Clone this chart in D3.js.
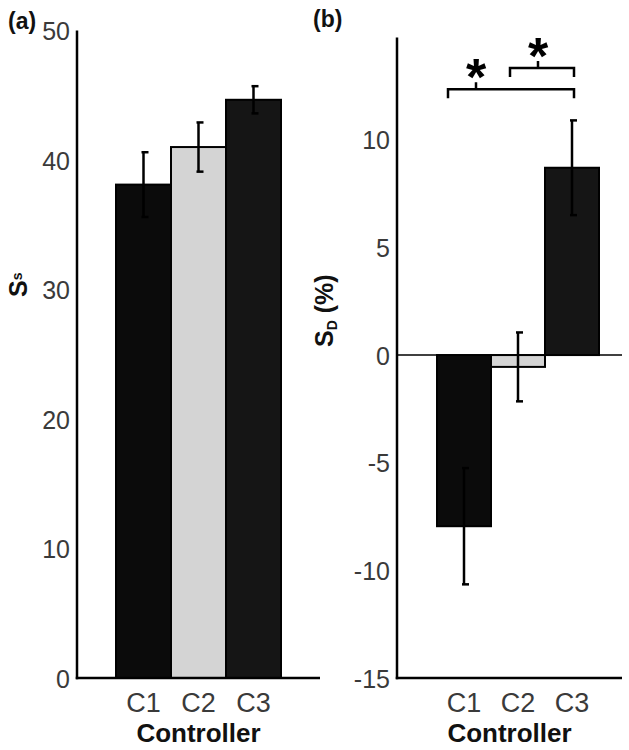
<!DOCTYPE html>
<html><head><meta charset="utf-8">
<script src="https://cdn.jsdelivr.net/npm/d3@7"></script>
<style>body{margin:0;background:#fff}svg{display:block}</style>
</head><body>
<svg id="chart" width="629" height="750"></svg>
<script>
const categories = ["C1", "C2", "C3"];
const ssMean = [38.1, 41.0, 44.65];
const ssErr = [2.5, 1.9, 1.05];
const sdMean = [-7.95, -0.55, 8.7];
const sdErr = [2.7, 1.6, 2.2];
const ssTicks = [0, 10, 20, 30, 40, 50];
const sdTicks = [-15, -10, -5, 0, 5, 10];
const barColors = ["#0b0b0b", "#d4d4d4", "#151515"];
const sigPairs = [["C1", "C3"], ["C2", "C3"]];
const sigLevels = [12.35, 13.33];

const svg = d3.select("#chart");
const tickFont = "'Liberation Sans', Arial, sans-serif";

function panel(opts) {
  const g = svg.append("g");
  const y = d3.scaleLinear().domain(opts.domain).range([678, opts.top]);
  const x = d3.scaleBand().domain(categories).range(opts.barRange).padding(0);
  const bw = x.bandwidth();

  g.selectAll("rect.bar").data(categories).join("rect")
    .attr("x", d => x(d)).attr("width", bw)
    .attr("y", (d, i) => y(Math.max(0, opts.mean[i])))
    .attr("height", (d, i) => Math.abs(y(opts.mean[i]) - y(0)))
    .attr("fill", (d, i) => barColors[i])
    .attr("stroke", "#000").attr("stroke-width", 2);

  categories.forEach((c, i) => {
    const cx = x(c) + bw / 2;
    const lo = opts.mean[i] - opts.err[i], hi = opts.mean[i] + opts.err[i];
    g.append("line").attr("x1", cx).attr("x2", cx).attr("y1", y(lo)).attr("y2", y(hi))
      .attr("stroke", "#000").attr("stroke-width", 2.5);
    [lo, hi].forEach(v => g.append("line").attr("x1", cx - 2).attr("x2", cx + 5)
      .attr("y1", y(v)).attr("y2", y(v)).attr("stroke", "#000").attr("stroke-width", 2.5));
  });

  if (opts.zeroLine) {
    g.append("line").attr("x1", opts.axisX).attr("x2", opts.axisEnd)
      .attr("y1", y(0)).attr("y2", y(0)).attr("stroke", "#000").attr("stroke-width", 1.5);
  }

  const ya = d3.axisLeft(y).tickValues(opts.ticks).tickSize(0).tickPadding(7)
    .tickFormat(d => String(d));
  const yg = g.append("g").attr("transform", `translate(${opts.axisX},0)`).call(ya);
  yg.select(".domain").remove();
  yg.selectAll("text").attr("font-family", tickFont).attr("font-size", 25)
    .attr("fill", "#3a3a3a").attr("dy", "0.36em");
  g.append("line").attr("x1", opts.axisX).attr("x2", opts.axisX)
    .attr("y1", y(opts.domain[1])).attr("y2", 679.25)
    .attr("stroke", "#000").attr("stroke-width", 2.5);

  const xa = d3.axisBottom(x).tickSize(0).tickPadding(10);
  const xg = g.append("g").attr("transform", "translate(0,678)").call(xa);
  xg.select(".domain").remove();
  xg.selectAll("text").attr("font-family", tickFont).attr("font-size", 27)
    .attr("fill", "#3a3a3a").attr("dy", "0.88em");
  g.append("line").attr("x1", opts.axisX - 1.25).attr("x2", opts.axisEnd)
    .attr("y1", 678).attr("y2", 678).attr("stroke", "#000").attr("stroke-width", 2.5);

  g.append("text").attr("x", (opts.axisX + opts.axisEnd) / 2).attr("y", 742)
    .attr("text-anchor", "middle").attr("font-family", "'Liberation Sans', Arial, sans-serif")
    .attr("font-weight", "bold").attr("font-size", 26).attr("fill", "#111").text("Controller");

  return {g, x, y, bw};
}

// Panel (a)
const pa = panel({domain: [0, 50], top: 30.5, barRange: [116, 281], axisX: 77, axisEnd: 320,
  mean: ssMean, err: ssErr, ticks: ssTicks, zeroLine: false});
const la = svg.append("text").attr("transform", "translate(27,297) rotate(-90)")
  .attr("font-family", "'Liberation Sans', Arial, sans-serif").attr("font-weight", "bold")
  .attr("font-size", 25).attr("fill", "#111");
la.append("tspan").text("S");
la.append("tspan").attr("font-size", 14).attr("dy", -5).text("s");

// Panel (b)
const pb = panel({domain: [-15, 14.75], top: 37.5, barRange: [437, 599], axisX: 397, axisEnd: 622,
  mean: sdMean, err: sdErr, ticks: sdTicks, zeroLine: true});
const lb = svg.append("text").attr("transform", "translate(333,347) rotate(-90)")
  .attr("font-family", "'Liberation Sans', Arial, sans-serif").attr("font-weight", "bold")
  .attr("font-size", 25).attr("fill", "#111");
lb.append("tspan").text("S");
lb.append("tspan").attr("font-size", 14).attr("dy", 4).text("D");
lb.append("tspan").attr("dy", -4).text(" (%)");

// significance brackets
const bracketOffsets = [[-16, 2, 12], [-8, 2, 20]];
sigPairs.forEach((p, i) => {
  const {x, y, bw, g} = pb;
  const x1 = x(p[0]) + bw / 2 + bracketOffsets[i][0];
  const x2 = x(p[1]) + bw / 2 + bracketOffsets[i][1];
  const xt = x(p[0]) + bw / 2 + bracketOffsets[i][2];
  const yl = y(sigLevels[i]);
  g.append("path")
    .attr("d", `M${x1},${yl + 9}V${yl}H${x2}V${yl + 9}M${xt},${yl}V${yl - 7}`)
    .attr("fill", "none").attr("stroke", "#000").attr("stroke-width", 2.5);
  g.append("text").attr("x", xt).attr("y", yl + 6).attr("text-anchor", "middle")
    .attr("font-family", "'Liberation Sans', Arial, sans-serif").attr("font-weight", "bold")
    .attr("font-size", 52).attr("fill", "#000").text("*");
});

svg.append("text").attr("x", 8).attr("y", 29).attr("font-family", "'Liberation Sans', Arial, sans-serif")
  .attr("font-weight", "bold").attr("font-size", 23).attr("fill", "#111").text("(a)");
svg.append("text").attr("x", 313).attr("y", 27).attr("font-family", "'Liberation Sans', Arial, sans-serif")
  .attr("font-weight", "bold").attr("font-size", 23).attr("fill", "#111").text("(b)");
</script>
</body></html>
